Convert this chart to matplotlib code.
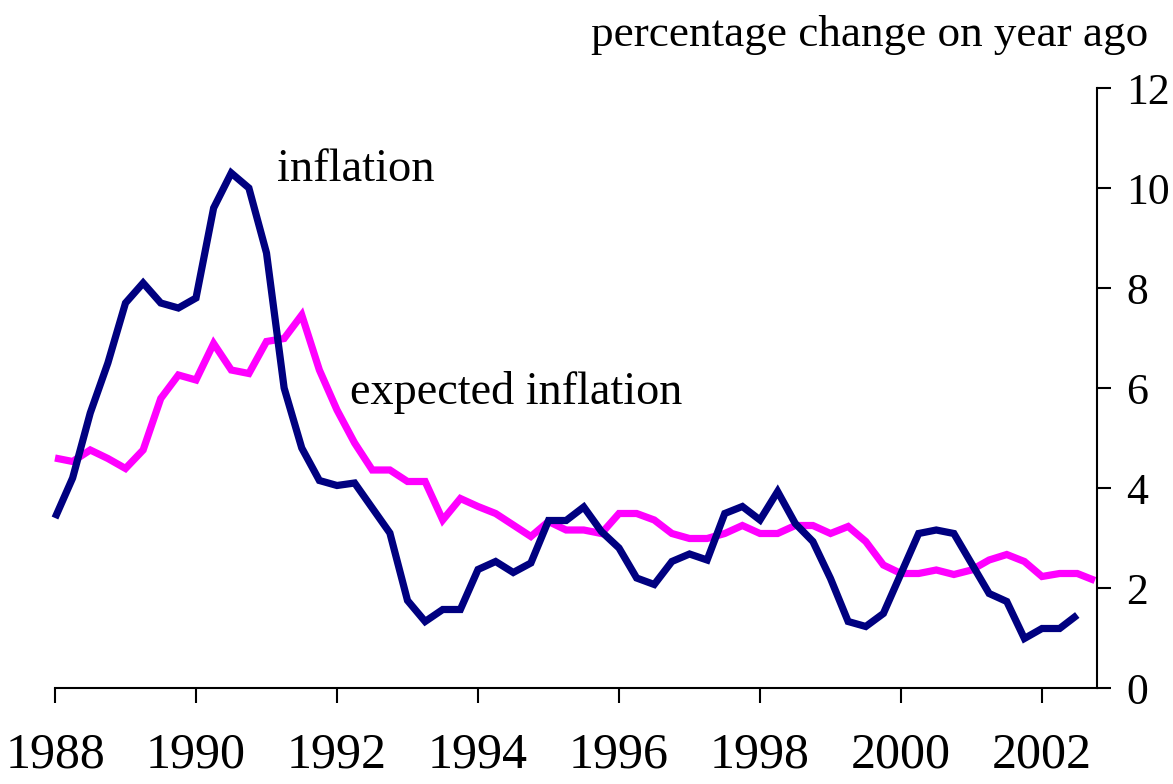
import matplotlib
matplotlib.use("Agg")
import matplotlib.pyplot as plt
import numpy as np

plt.rcParams['font.family'] = ['Liberation Serif', 'DejaVu Serif']

start_year = 1988.0
inflation = [3.4, 4.2, 5.5, 6.5, 7.7, 8.1, 7.7, 7.6,
             7.8, 9.6, 10.3, 10.0, 8.7, 6.0, 4.8, 4.15,
             4.05, 4.1, 3.6, 3.1, 1.75, 1.33, 1.57, 1.57,
             2.37, 2.53, 2.31, 2.5, 3.35, 3.35, 3.62, 3.13,
             2.8, 2.2, 2.07, 2.53, 2.68, 2.56, 3.49, 3.63,
             3.36, 3.93, 3.29, 2.93, 2.19, 1.33, 1.23, 1.49,
             2.29, 3.09, 3.16, 3.09, 2.49, 1.89, 1.73, 0.99,
             1.19, 1.19, 1.46]
expected = [4.6, 4.53, 4.76, 4.59, 4.39, 4.76, 5.79, 6.26,
            6.16, 6.89, 6.36, 6.29, 6.93, 6.99, 7.46, 6.36,
            5.56, 4.9, 4.36, 4.36, 4.13, 4.13, 3.36, 3.79,
            3.63, 3.49, 3.26, 3.03, 3.33, 3.16, 3.16, 3.09,
            3.49, 3.49, 3.36, 3.09, 2.99, 2.99, 3.09, 3.25,
            3.09, 3.09, 3.25, 3.25, 3.09, 3.23, 2.93, 2.46,
            2.29, 2.29, 2.36, 2.27, 2.36, 2.56, 2.67, 2.53,
            2.23, 2.29, 2.29, 2.15]
x_ticks = [1988, 1990, 1992, 1994, 1996, 1998, 2000, 2002]
y_ticks = [0, 2, 4, 6, 8, 10, 12]

x_inf = start_year + np.arange(len(inflation)) * 0.25
x_exp = start_year + np.arange(len(expected)) * 0.25

fig = plt.figure(figsize=(11.73, 7.84), dpi=100)
ax = fig.add_axes([55/1173, 1-688/784, 1042/1173, 600/784])

ax.plot(x_exp, expected, color='#FF00FF', lw=5.2, solid_joinstyle='miter', solid_capstyle='butt', clip_on=False)
ax.plot(x_inf, inflation, color='#000080', lw=5.2, solid_joinstyle='miter', solid_capstyle='butt', clip_on=False)

ax.set_xlim(1988, 2002.78)
ax.set_ylim(0, 12)

for s in ['left', 'top']:
    ax.spines[s].set_visible(False)
for s in ['right', 'bottom']:
    ax.spines[s].set_linewidth(1.5)

ax.yaxis.tick_right()
ax.set_yticks(y_ticks)
ax.set_yticklabels([str(v) for v in y_ticks])
ax.set_xticks(x_ticks)
ax.set_xticklabels([str(v) for v in x_ticks])
ax.tick_params(axis='y', direction='out', length=10, width=1.5, pad=11, labelsize=31.5)
ax.tick_params(axis='x', direction='out', length=11, width=1.5, pad=21, labelsize=36)

ax.text(1991.15, 10.36, 'inflation', fontsize=33.5, ha='left', va='center')
ax.text(1992.18, 5.92, 'expected inflation', fontsize=33.3, ha='left', va='center')

fig.text(1148/1173, 1-35/784, 'percentage change on year ago', fontsize=32.5, ha='right', va='center')

fig.savefig('out.png', dpi=100)
